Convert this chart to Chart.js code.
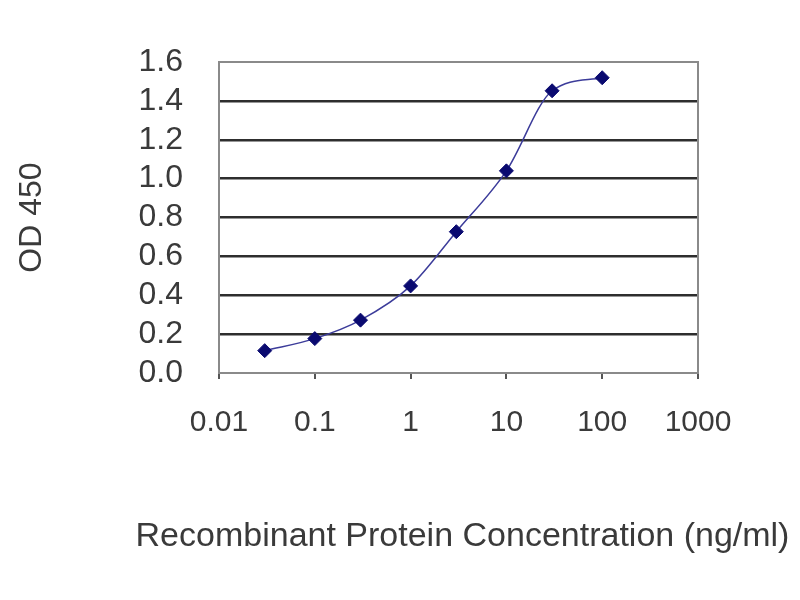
<!DOCTYPE html>
<html>
<head>
<meta charset="utf-8">
<script src="https://cdn.jsdelivr.net/npm/chart.js@4.4.0/dist/chart.umd.min.js"></script>
<style>
  html, body { margin: 0; padding: 0; background: #ffffff; }
  #wrap { width: 800px; height: 600px; }
</style>
</head>
<body>
<div id="wrap"><canvas id="elisaCanvas" width="800" height="600"></canvas></div>
<script>
// ---------------- Data -------------------------------------------------------
var concentrations = [ 0.03, 0.1, 0.3, 1, 3, 10, 30, 100 ] ;
var odValues       = [ 0.115, 0.177, 0.272, 0.448, 0.727, 1.04, 1.452, 1.519 ] ;
var xTickValues    = [ 0.01, 0.1, 1, 10, 100, 1000 ] ;
var xTickLabels    = [ '0.01', '0.1', '1', '10', '100', '1000' ] ;
var yTickValues    = [ 0, 0.2, 0.4, 0.6, 0.8, 1.0, 1.2, 1.4, 1.6 ] ;
var xTitle         = 'Recombinant Protein Concentration (ng/ml)' ;

var FONT = "'Liberation Sans', Arial, sans-serif" ;
var TEXT = '#3a3a3a' ;

// ---------------- Plot frame + wide x title ----------------------------------
// the x title is wider than the plot area, so Chart.js would squeeze it;
// it is painted here instead, centred a bit right of the plot centre
var frameBox = {
    id: 'frameBox',
    afterDraw: function( chart ) {
        var a = chart.chartArea ;
        var ctx = chart.ctx ;
        ctx.save() ;
        ctx.strokeStyle = '#8a8a8a' ;
        ctx.lineWidth = 2 ;
        ctx.strokeRect( a.left, a.top, a.right - a.left, a.bottom - a.top ) ;

        ctx.font = "34px " + FONT ;
        ctx.fillStyle = TEXT ;
        ctx.textAlign = 'center' ;
        ctx.textBaseline = 'middle' ;
        ctx.fillText( xTitle, ( a.left + a.right ) / 2 + 4, 537 ) ;
        ctx.restore() ;
    }
} ;

function getDataset() {
    var pts = [] ;
    for( var i = 0; i < concentrations.length; i++ ) {
        pts.push( { x: concentrations[i], y: odValues[i] } ) ;
    }
    return {
        data                   : pts,
        borderColor            : '#3c3c9a',
        borderWidth            : 1.5,
        cubicInterpolationMode : 'monotone',
        pointStyle             : 'rectRot',
        pointRadius            : 7,
        pointBackgroundColor   : '#0a0a70',
        pointBorderColor       : '#0a0a70',
        pointBorderWidth       : 1
    } ;
}

function getScaleOptions() {
    return {
        x: {
            type: 'logarithmic',
            min: 0.01,
            max: 1000,
            afterBuildTicks: function( scale ) {
                scale.ticks = xTickValues.map( function( v ) { return { value: v } ; } ) ;
            },
            afterFit: function( scale ) { scale.height = 227 ; },
            ticks: {
                autoSkip: false,
                maxRotation: 0,
                padding: 26,
                color: TEXT,
                font: { family: FONT, size: 30 },
                callback: function( value ) {
                    var idx = xTickValues.indexOf( value ) ;
                    return idx >= 0 ? xTickLabels[idx] : '' ;
                }
            },
            grid: {
                drawOnChartArea: false,
                drawTicks: true,
                tickLength: 6,
                color: '#555555',
                lineWidth: 2
            },
            border: { display: false }
        },
        y: {
            min: 0,
            max: 1.6,
            afterBuildTicks: function( scale ) {
                scale.ticks = yTickValues.map( function( v ) { return { value: v } ; } ) ;
            },
            afterFit: function( scale ) { scale.width = 219 ; },
            ticks: {
                autoSkip: false,
                padding: 36,
                color: TEXT,
                font: { family: FONT, size: 32, lineHeight: 1 },
                callback: function( value ) { return value.toFixed( 1 ) ; }
            },
            grid: {
                drawTicks: false,
                color: function( c ) {
                    var v = c.tick ? c.tick.value : 0 ;
                    return ( v <= 0.001 || v >= 1.599 ) ? 'rgba(0,0,0,0)' : '#2e2e2e' ;
                },
                lineWidth: 2.5
            },
            border: { display: false },
            title: {
                display: true,
                text: 'OD 450',
                color: TEXT,
                font: { family: FONT, size: 32 },
                padding: { top: 13, bottom: 13 }
            }
        }
    } ;
}

var canvas = document.getElementById( 'elisaCanvas' ) ;
var chart = new Chart( canvas, {
    type: 'line',
    data: { datasets: [ getDataset() ] },
    options: {
        responsive: false,
        animation: false,
        layout: { padding: { left: 0, right: 102, top: 62, bottom: 0 } },
        plugins: {
            legend: { display: false },
            tooltip: { enabled: false }
        },
        scales: getScaleOptions()
    },
    plugins: [ frameBox ]
} ) ;
</script>
</body>
</html>
